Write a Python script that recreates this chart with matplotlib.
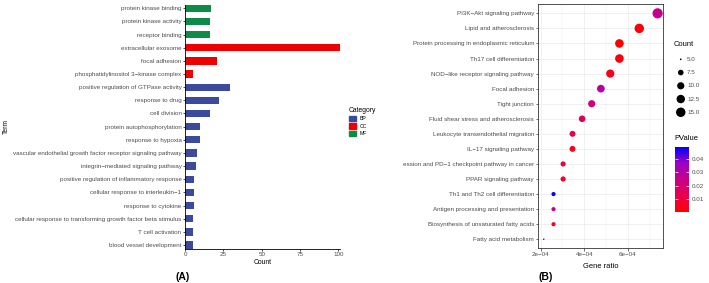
import numpy as np
import matplotlib
matplotlib.use("Agg")
import matplotlib.pyplot as plt
from matplotlib.colors import LinearSegmentedColormap, Normalize
from matplotlib.cm import ScalarMappable
from matplotlib.patches import Patch
from matplotlib.transforms import Bbox, TransformedBbox

plt.rcParams['font.family'] = ['Liberation Sans', 'DejaVu Sans']

# ---- panel A: GO enrichment (top to bottom) ----
go_terms = [
    'protein kinase binding',
    'protein kinase activity',
    'receptor binding',
    'extracellular exosome',
    'focal adhesion',
    'phosphatidylinositol 3\u2212kinase complex',
    'positive regulation of GTPase activity',
    'response to drug',
    'cell division',
    'protein autophosphorylation',
    'response to hypoxia',
    'vascular endothelial growth factor receptor signaling pathway',
    'integrin\u2212mediated signaling pathway',
    'positive regulation of inflammatory response',
    'cellular response to interleukin\u22121',
    'response to cytokine',
    'cellular response to transforming growth factor beta stimulus',
    'T cell activation',
    'blood vessel development',
]
go_counts = [17, 16, 16, 101, 21, 5, 29, 22, 16, 10, 10, 8, 7, 6, 6, 6, 5, 5, 5]
go_category = ['MF', 'MF', 'MF', 'CC', 'CC', 'CC'] + ['BP'] * 13
category_names = ['BP', 'CC', 'MF']
category_colors = {'BP': '#3B4A9B', 'CC': '#EE0000', 'MF': '#0F8A47'}

# ---- panel B: KEGG pathways (top to bottom) ----
kegg_terms = [
    'PI3K\u2212Akt signaling pathway',
    'Lipid and atherosclerosis',
    'Protein processing in endoplasmic reticulum',
    'Th17 cell differentiation',
    'NOD\u2212like receptor signaling pathway',
    'Focal adhesion',
    'Tight junction',
    'Fluid shear stress and atherosclerosis',
    'Leukocyte transendothelial migration',
    'IL\u221217 signaling pathway',
    'PD\u2212L1 expression and PD\u22121 checkpoint pathway in cancer',
    'PPAR signaling pathway',
    'Th1 and Th2 cell differentiation',
    'Antigen processing and presentation',
    'Biosynthesis of unsaturated fatty acids',
    'Fatty acid metabolism',
]
kegg_ratio = [7.36e-4, 6.52e-4, 5.61e-4, 5.61e-4, 5.19e-4, 4.76e-4, 4.34e-4, 3.90e-4,
              3.46e-4, 3.46e-4, 3.03e-4, 3.03e-4, 2.59e-4, 2.59e-4, 2.59e-4, 2.14e-4]
kegg_count = [17, 15, 13, 13, 12, 11, 10, 9, 8, 8, 7, 7, 6, 6, 6, 5]
kegg_pvalue = [0.026, 0.002, 0.0003, 0.002, 0.004, 0.030, 0.022, 0.016,
               0.013, 0.004, 0.011, 0.005, 0.0495, 0.025, 0.006, 0.024]
count_breaks = [5.0, 7.5, 10.0, 12.5, 15.0]
pvalue_breaks = [0.01, 0.02, 0.03, 0.04]

W, H = 709, 283
fig = plt.figure(figsize=(W / 100, H / 100), dpi=100)


def px_axes(x0, y0, x1, y1):
    return fig.add_axes([x0 / W, 1 - y1 / H, (x1 - x0) / W, (y1 - y0) / H])


def px_text(x, y, s, **kw):
    kw.setdefault('va', 'center')
    return fig.text(x / W, 1 - y / H, s, **kw)


def dot_size(c):
    # ggplot-like area scale, range 1..6
    c = np.asarray(c, float)
    lo, hi = min(kegg_count), max(kegg_count)
    frac = np.clip((c - lo) / (hi - lo), 0, 1)
    d_px = 1.7 * (1 + 5 * np.sqrt(frac))
    return (d_px * 0.72) ** 2


grey30 = '#4D4D4D'
tick_fs = 4.5

# ---------------- panel A ----------------
axA = px_axes(185, 4.6, 340, 248.7)
n = len(go_terms)
yA = np.arange(n)
axA.barh(yA, go_counts, height=0.56, color=[category_colors[c] for c in go_category])
axA.set_ylim(n - 1 + 0.28, -0.28)
axA.set_xlim(0, max(go_counts))
axA.set_yticks(yA, go_terms)
axA.set_xticks([0, 25, 50, 75, 100])
for s in ['top', 'right']:
    axA.spines[s].set_visible(False)
for s in ['left', 'bottom']:
    axA.spines[s].set_linewidth(0.6)
axA.tick_params(labelsize=tick_fs, length=1.6, width=0.5, pad=1, labelcolor=grey30)

px_text(262.5, 262.5, 'Count', ha='center', fontsize=4.9)
px_text(6, 126.6, 'Term', ha='center', rotation=90, fontsize=4.9)
px_text(183, 276.5, '(A)', ha='center', fontsize=7.5, fontweight='bold')

fig.legend(handles=[Patch(color=category_colors[c]) for c in category_names],
           labels=category_names, title='Category', loc='upper left',
           bbox_to_anchor=(349 / W, 1 - 107 / H), bbox_transform=fig.transFigure,
           frameon=False, fontsize=3.7, title_fontsize=4.9, alignment='left',
           handlelength=1.4, handleheight=1.3, labelspacing=0.35,
           borderpad=0, borderaxespad=0, handletextpad=0.6)

# ---------------- panel B ----------------
axB = px_axes(538, 4.3, 663.3, 248.3)
m = len(kegg_terms)
yB = np.arange(m)
cmap = LinearSegmentedColormap.from_list(
    'pv', ['#FF0000', '#E8004F', '#C80088', '#9C00C5', '#0000FF'])
norm = Normalize(vmin=min(kegg_pvalue), vmax=max(kegg_pvalue))
axB.scatter(kegg_ratio, yB, s=dot_size(kegg_count), c=kegg_pvalue, cmap=cmap,
            norm=norm, edgecolors='none', zorder=3)
lo, hi = min(kegg_ratio), max(kegg_ratio)
pad = 0.05 * (hi - lo)
axB.set_xlim(lo - pad, hi + pad)
axB.set_ylim(m - 1 + 0.6, -0.6)
axB.set_yticks(yB, kegg_terms)
axB.set_xticks([2e-4, 4e-4, 6e-4], ['2e\u221204', '4e\u221204', '6e\u221204'])
axB.set_xticks([3e-4, 5e-4, 7e-4], minor=True)
axB.grid(which='major', color='#EBEBEB', lw=0.5)
axB.grid(which='minor', axis='x', color='#EBEBEB', lw=0.3)
axB.set_axisbelow(True)
for s in axB.spines.values():
    s.set_color('#333333')
    s.set_linewidth(0.6)
axB.tick_params(labelsize=tick_fs, length=1.8, width=0.5, pad=1, color='#333333',
                labelcolor=grey30)
axB.tick_params(which='minor', length=0)

clip = TransformedBbox(Bbox.from_extents(403 / W, 0, 1, 1), fig.transFigure)
for lab in axB.get_yticklabels():
    lab.set_clip_box(clip)
    lab.set_clip_on(True)

px_text(601, 266, 'Gene ratio', ha='center', fontsize=5.4)
px_text(545.7, 276.5, '(B)', ha='center', fontsize=7.5, fontweight='bold')

# Count legend
px_text(674, 44.7, 'Count', ha='left', fontsize=5.4)
axL = px_axes(674, 52.7, 700, 118.9)
axL.set_xlim(0, 1)
axL.set_ylim(len(count_breaks) - 0.5, -0.5)
axL.scatter(np.full(len(count_breaks), 0.26), np.arange(len(count_breaks)),
            s=dot_size(count_breaks), c='black', edgecolors='none')
for i, v in enumerate(count_breaks):
    axL.text(0.5, i, f'{v:.1f}', va='center', ha='left', fontsize=tick_fs, color=grey30)
axL.axis('off')

# PValue colorbar
px_text(674, 139, 'PValue', ha='left', fontsize=5.4)
cax = px_axes(675, 146.7, 689, 211.7)
cb = fig.colorbar(ScalarMappable(norm=norm, cmap=cmap), cax=cax, ticks=pvalue_breaks)
cb.outline.set_visible(False)
cb.set_ticklabels([f'{v:.2f}' for v in pvalue_breaks])
cax.tick_params(labelsize=tick_fs, length=2.5, width=0.5, color='white', direction='in',
                left=True, right=True, labelcolor=grey30, pad=2)

fig.savefig('out.png', dpi=100)
